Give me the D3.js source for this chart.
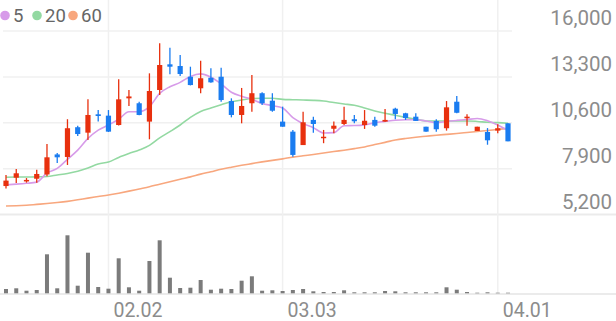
<!DOCTYPE html>
<html><head><meta charset="utf-8">
<script src="https://cdn.jsdelivr.net/npm/d3@7"></script>
<style>html,body{margin:0;padding:0;background:#fff;overflow:hidden}</style>
</head><body><svg id="c" width="616" height="321"></svg>
<script>
const openP  = [6880,7370,7150,7310,7560,8740,8590,10340,10020,11100,11020,10470,12040,11750,10670,12530,14040,13940,13310,12630,13250,13310,11880,11060,11750,12340,11900,10670,10080,9290,10770,9710,10250,10530,10810,10470,10770,10670,11430,11160,10960,10370,10710,10280,11840,10870,10120,10060,10140,10570];
const highP  = [7530,7880,7350,7840,9350,8820,10810,10430,11980,11350,11350,13160,12530,11840,13510,15280,15020,14590,13900,14250,13810,13840,12040,12650,13410,12390,12340,11550,10180,11250,10960,10180,10670,11550,11060,11350,10960,11410,11490,11190,11160,10370,10810,11880,12180,11100,10370,10290,10510,10570];
const lowP   = [6740,7060,7080,7080,7450,8240,8120,9820,9590,10670,10060,10440,11590,11040,9630,12240,13450,13350,12800,12340,12960,11840,10920,10570,11250,11650,11250,10370,8610,9290,10020,9400,9980,10470,10570,10240,10370,10660,10810,10770,10700,10080,10080,10140,11160,10430,10120,9310,9980,9510];
const closeP = [7200,7630,7240,7590,8570,8570,10280,9940,11060,11000,10080,11980,12150,11060,12470,14000,13900,13470,12820,13220,12980,11940,11060,11590,12340,11750,11310,10370,8710,10630,10530,9780,10430,10770,10690,10720,10430,10770,11120,10880,10710,10080,10220,11510,11190,10960,10370,9570,10280,9510];
const volume = [430,500,260,330,3900,500,5800,760,4060,630,460,3500,600,260,3230,5300,1560,530,560,1330,360,460,430,1260,1700,260,300,230,330,430,200,130,130,300,100,100,100,230,200,100,100,100,100,600,360,130,60,100,60,60];
const ma5  = [6950,6990,7040,7110,7650,7920,8450,8990,9680,10170,10470,10810,11250,11250,11550,12330,12720,12980,13330,13480,13280,12890,12400,12160,11980,11740,11610,11470,10900,10550,10310,10000,10020,10430,10440,10480,10610,10680,10750,10780,10780,10710,10600,10680,10740,10790,10850,10720,10470,10140];
const ma20 = [7400,7410,7410,7420,7440,7530,7620,7750,7940,8180,8290,8560,8790,9000,9270,9710,10080,10470,10920,11270,11470,11660,11840,11940,12030,12040,12040,11980,11960,11940,11920,11880,11790,11710,11630,11470,11290,11160,11040,10920,10810,10710,10710,10710,10710,10710,10680,10630,10610,10570];
const ma60 = [5710,5720,5750,5800,5850,5910,5980,6070,6170,6260,6350,6460,6580,6710,6840,6990,7130,7280,7420,7580,7720,7870,7990,8100,8200,8300,8390,8480,8580,8660,8740,8820,8910,8990,9080,9180,9320,9450,9590,9680,9750,9810,9870,9920,9970,10030,10090,10150,10210,10270];
const priceTicks = [16000,13300,10600,7900,5200];
const xTickIndex = [10,27,48];
const xTickLabels = ["02.02","03.03","04.01"];
const legendLabels = ["5","20","60"];

const RED = "#e8300e", BLUE = "#1a7cf0";
const maColors = ["#d79be9","#93d9a2","#f8a77e"];
const svg = d3.select("#c");
const idx = d3.range(closeP.length);
const x = d3.scalePoint().domain(idx).range([6,508]);
const y = d3.scaleLinear().domain([5200,16000]).range([214.6,31]);
const yv = d3.scaleLinear().domain([0,d3.max(volume)]).range([293.3,235.3]);
const font = "Roboto, 'Noto Sans', sans-serif";

// grid
svg.append("g").selectAll("line").data(priceTicks.slice(0,4)).join("line")
  .attr("x1",3).attr("x2",512).attr("y1",d=>y(d)).attr("y2",d=>y(d))
  .attr("stroke","#f0f0f0").attr("stroke-width",1.5);
svg.append("line").attr("x1",0).attr("x2",616).attr("y1",y(5200)).attr("y2",y(5200))
  .attr("stroke","#ebebeb").attr("stroke-width",2);
svg.append("line").attr("x1",0).attr("x2",616).attr("y1",294).attr("y2",294)
  .attr("stroke","#ebebeb").attr("stroke-width",2);
svg.append("g").selectAll("line").data(xTickIndex).join("line")
  .attr("x1",d=>x(d)).attr("x2",d=>x(d)).attr("y1",0).attr("y2",293)
  .attr("stroke","#f0f0f0").attr("stroke-width",1.5);

// price labels
svg.append("g").selectAll("text").data(priceTicks).join("text")
  .attr("x",612).attr("y",d=>y(d)-6).attr("text-anchor","end")
  .attr("font-family",font).attr("font-size",20.5).attr("fill","#8c8c8c")
  .text(d=>d3.format(",")(d));

// x labels
svg.append("g").selectAll("text").data(xTickIndex).join("text")
  .attr("x",d=>x(d)+5).attr("y",317).attr("text-anchor","start")
  .attr("font-family",font).attr("font-size",19.5).attr("fill","#8c8c8c")
  .text((d,i)=>xTickLabels[i]);

// MA lines
const line = arr => d3.line().x((d,i)=>x(i)).y(d=>y(d)).curve(d3.curveMonotoneX)(arr);
[ma60, ma20, ma5].forEach((arr,k)=>{
  svg.append("path").attr("d",line(arr)).attr("fill","none")
    .attr("stroke",maColors[2-k]).attr("stroke-width",1.6);
});

// volume
svg.append("g").selectAll("rect").data(idx).join("rect")
  .attr("x",i=>x(i)-2).attr("width",4)
  .attr("y",i=>yv(volume[i])).attr("height",i=>yv(0)-yv(volume[i]))
  .attr("fill","#7b7b7b");

// candles
const cg = svg.append("g").selectAll("g").data(idx).join("g");
const col = i => closeP[i] >= openP[i] ? RED : BLUE;
cg.append("line").attr("x1",i=>x(i)).attr("x2",i=>x(i))
  .attr("y1",i=>y(highP[i])).attr("y2",i=>y(lowP[i]))
  .attr("stroke",col).attr("stroke-width",1.3);
cg.append("rect").attr("x",i=>x(i)-2.6).attr("width",5.2)
  .attr("y",i=>y(Math.max(openP[i],closeP[i])))
  .attr("height",i=>Math.max(1.5, Math.abs(y(openP[i])-y(closeP[i]))))
  .attr("fill",col);

// legend
const lx = [5,37,73];
const lg = svg.append("g").selectAll("g").data(legendLabels).join("g");
lg.append("circle").attr("cx",(d,i)=>lx[i]).attr("cy",15.5).attr("r",4.8).attr("fill",(d,i)=>maColors[i]);
lg.append("text").attr("x",(d,i)=>lx[i]+8).attr("y",22)
  .attr("font-family",font).attr("font-size",18.5).attr("fill","#666")
  .text(d=>d);
</script></body></html>
